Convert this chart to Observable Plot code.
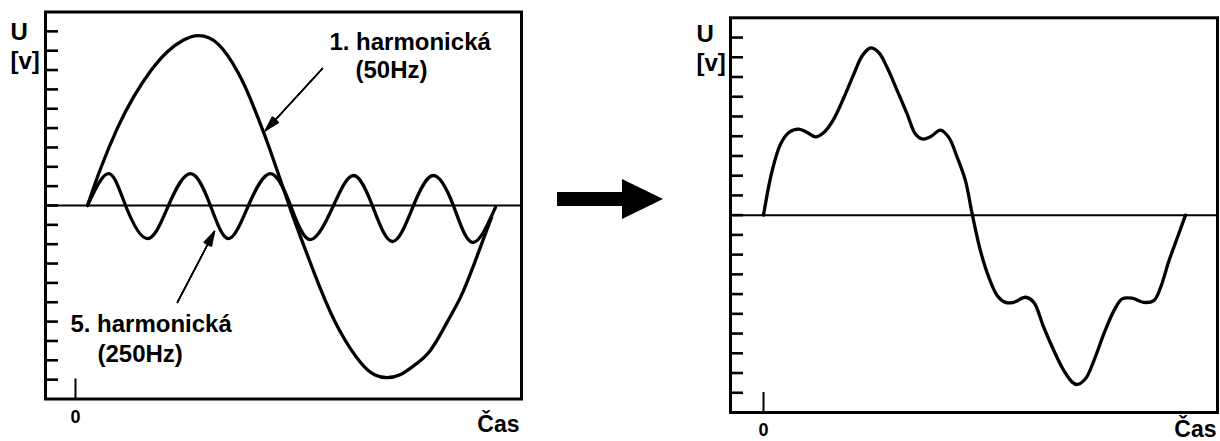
<!DOCTYPE html>
<html><head><meta charset="utf-8">
<script src="https://cdn.jsdelivr.net/npm/d3@7"></script>
<script src="https://cdn.jsdelivr.net/npm/@observablehq/plot@0.6"></script>
<style>
body{margin:0;background:#fff;}
#wrap{position:relative;width:1220px;height:441px;overflow:hidden;background:#fff;}
#left{position:absolute;left:0;top:0;width:540px;height:441px;}
#right{position:absolute;left:540px;top:0;width:680px;height:441px;}
.shaft{position:absolute;left:557px;top:192px;width:66px;height:14px;background:#000;z-index:5;}
.head{position:absolute;left:622px;top:179px;width:0;height:0;border-left:41px solid #000;border-top:20.5px solid transparent;border-bottom:20.5px solid transparent;z-index:5;}
</style></head><body>
<div id="wrap"><div id="left"></div><div id="right"></div><div class="shaft"></div><div class="head"></div></div>
<script>
// ---- data (time in ms, voltage in axis tick units) ----
const uTicks = [-9,-8,-7,-6,-5,-4,-3,-2,-1,0,1,2,3,4,5,6,7,8,9];
const timeTicks = [0];
const timeTickLabels = ["0"];
const yAxisLabels = ["U", "[v]"];
const xAxisLabel = "Čas";

// 1st harmonic (50 Hz)
const h1Time = [0.59, 1.23, 2.06, 2.85, 3.69, 4.52, 5.31, 6.05, 7.0, 8.0, 8.6, 9.0, 9.58, 10.5, 11.0, 12.0, 13.0, 14.0, 14.7, 15.3, 15.95, 16.6, 17.44, 18.28, 18.92, 19.6, 20.45];
const h1Volt = [0, 1.9, 4.0, 5.6, 6.95, 7.95, 8.55, 8.78, 8.35, 6.85, 5.5, 4.45, 2.82, 0, -1.45, -4.2, -6.5, -8.1, -8.75, -8.9, -8.75, -8.3, -7.49, -6.0, -4.75, -3.0, -0.6];

// 5th harmonic (250 Hz)
const h5Time = [0.59, 1.62, 2.46, 3.54, 4.57, 5.65, 6.63, 7.52, 8.50, 9.58, 10.57, 11.55, 12.68, 13.66, 14.59, 15.58, 16.61, 17.59, 18.57, 19.51, 20.64];
const h5Volt = [0, 1.65, 0, -1.71, 0, 1.65, 0, -1.71, 0, 1.65, 0, -1.76, 0, 1.55, 0, -1.86, 0, 1.55, 0, -1.91, -0.1];

// resulting waveform
const sumTime = [0, 0.41, 0.81, 1.2, 1.67, 2.07, 2.46, 2.86, 3.33, 3.81, 4.28, 4.68, 5.07, 5.46, 5.86, 6.34, 6.81, 7.2, 7.52, 7.91, 8.39, 8.78, 9.18, 9.57, 9.89, 10.28, 10.68, 11.08, 11.47, 11.86, 12.42, 12.81, 13.28, 13.76, 14.23, 14.63, 14.87, 15.26, 15.66, 16.13, 16.61, 17.0, 17.47, 18.02, 18.5, 18.82, 19.22, 19.62, 20.0];
const sumVolt = [0, 2.25, 3.6, 4.19, 4.36, 4.19, 3.97, 4.19, 4.87, 5.96, 7.15, 8.08, 8.47, 8.24, 7.48, 6.30, 5.12, 4.11, 3.86, 3.97, 4.31, 3.94, 2.93, 1.75, 0.06, -1.8, -3.15, -4.08, -4.42, -4.42, -4.16, -4.42, -5.68, -6.86, -7.87, -8.46, -8.58, -8.29, -7.37, -6.02, -4.84, -4.24, -4.21, -4.42, -4.33, -3.66, -2.30, -1.12, 0];

// annotations
const noteTexts = ["1. harmonická", "(50Hz)", "5. harmonická", "(250Hz)"];
const noteTime = [12.48, 13.76, -0.25, 1.08];
const noteVolt = [8.06, 6.61, -6.56, -8.11];
const pointerFromTime = [12.14, 5.01];
const pointerFromVolt = [7.08, -5.01];
const pointerToTime = [9.34, 6.83];
const pointerToVolt = [3.88, -1.34];

// ---- tables ----
const toRows = (T, U) => T.map((t, i) => ({t, u: U[i]}));
const h1 = toRows(h1Time, h1Volt);
const h5 = toRows(h5Time, h5Volt);
const sum = toRows(sumTime, sumVolt);
const notes = noteTexts.map((label, i) => ({label, t: noteTime[i], u: noteVolt[i]}));
const pointers = pointerFromTime.map((t, i) => ({t1: t, u1: pointerFromVolt[i], t2: pointerToTime[i], u2: pointerToVolt[i]}));

const FONT = '"Liberation Sans", Arial, Helvetica, sans-serif';
const INK = "#000";

function panel({width, marginLeft, marginRight, marginTop, marginBottom, xDomain, curveMarks, extraMarks, labelOff}) {
  const height = 441;
  const plotW = width - marginLeft - marginRight;
  const plotH = height - marginTop - marginBottom;
  return Plot.plot({
    width, height, marginLeft, marginRight, marginTop, marginBottom,
    x: {domain: xDomain, axis: null},
    y: {domain: [-10, 10], axis: null},
    style: {fontFamily: FONT, background: "white", overflow: "visible"},
    marks: [
      Plot.ruleY([0], {stroke: INK, strokeWidth: 2}),
      Plot.tickY(uTicks, {y: d => d, stroke: INK, strokeWidth: 2.6, insetRight: plotW - 13}),
      Plot.tickX(timeTicks, {x: d => d, stroke: INK, strokeWidth: 2, insetTop: plotH - 20}),
      ...curveMarks,
      Plot.frame({stroke: INK, strokeWidth: 3}),
      Plot.text([yAxisLabels[0]], {text: d => d, frameAnchor: "top-left", dx: labelOff.ux, dy: labelOff.uy, textAnchor: "start", lineAnchor: "bottom", fontSize: 24, fontWeight: "bold", fill: INK}),
      Plot.text([yAxisLabels[1]], {text: d => d, frameAnchor: "top-left", dx: labelOff.ux, dy: labelOff.vy, textAnchor: "start", lineAnchor: "bottom", fontSize: 24, fontWeight: "bold", fill: INK}),
      Plot.text([xAxisLabel], {text: d => d, frameAnchor: "bottom-right", dx: labelOff.cx, dy: labelOff.cy, textAnchor: "end", lineAnchor: "bottom", fontSize: 23, fontWeight: "bold", fill: INK}),
      Plot.text(timeTickLabels, {text: d => d, x: (d, i) => timeTicks[i], frameAnchor: "bottom", dy: labelOff.zy, textAnchor: "middle", lineAnchor: "bottom", fontSize: 18, fontWeight: "bold", fill: INK}),
      ...extraMarks
    ]
  });
}

const left = panel({
  width: 540, marginLeft: 45, marginRight: 19, marginTop: 11.5, marginBottom: 42.5,
  xDomain: [-1.474, 21.92],
  curveMarks: [
    Plot.line(h1, {x: "t", y: "u", curve: "natural", stroke: INK, strokeWidth: 3.3}),
    Plot.line(h5, {x: "t", y: "u", curve: "natural", stroke: INK, strokeWidth: 3.3})
  ],
  extraMarks: [
    Plot.text(notes, {x: "t", y: "u", text: "label", textAnchor: "start", lineAnchor: "bottom", fontSize: 24, fontWeight: "bold", fill: INK}),
    ...[32, 22, 12].map(a => Plot.arrow(pointers, {x1: "t1", y1: "u1", x2: "t2", y2: "u2", stroke: INK, strokeWidth: 1.5, headLength: 15, headAngle: a}))
  ],
  labelOff: {ux: -35, uy: 27.5, vy: 56.5, cx: -2, cy: 32.5, zy: 23.5}
});

const right = panel({
  width: 680, marginLeft: 190, marginRight: 3, marginTop: 17.3, marginBottom: 29,
  xDomain: [-1.564, 21.517],
  curveMarks: [
    Plot.line(sum, {x: "t", y: "u", curve: "catmull-rom", stroke: INK, strokeWidth: 3.3})
  ],
  extraMarks: [],
  labelOff: {ux: -34, uy: 23.7, vy: 52.7, cx: -1, cy: 24.5, zy: 23}
});

document.getElementById("left").append(left);
document.getElementById("right").append(right);
</script>
</body></html>
